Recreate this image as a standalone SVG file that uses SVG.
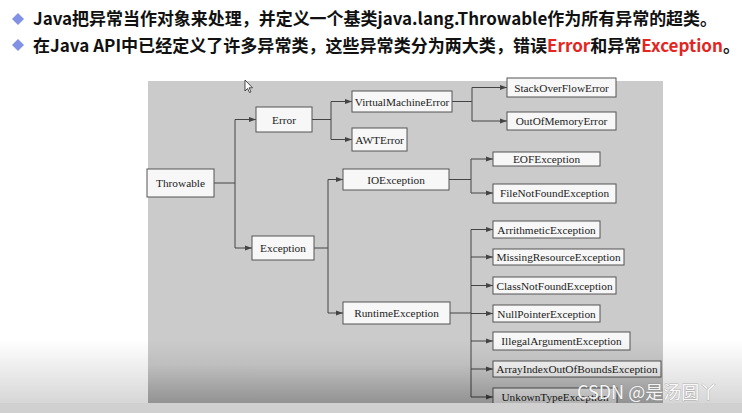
<svg xmlns="http://www.w3.org/2000/svg" width="742" height="413" viewBox="0 0 742 413">
<defs>
<style>
.hd{font-family:"Noto Sans CJK SC","Noto Sans",sans-serif;font-weight:bold;font-size:17px;fill:#111}
.red{fill:#e3261f}
.nb rect{fill:#f7f7f7;stroke:#555;stroke-width:1}
.nb text{font-family:"Liberation Serif",serif;font-size:11.3px;fill:#222;text-anchor:middle}
.cn path{fill:none;stroke:#444;stroke-width:1}
.ar{marker-end:url(#arr)}
.bul{fill:#8192e4}
</style>
<marker id="arr" markerWidth="7" markerHeight="6" refX="7" refY="3" orient="auto" markerUnits="userSpaceOnUse"><path d="M0,0.5 L7,3 L0,5.5 Z" fill="#444"/></marker>
<linearGradient id="gAll" x1="0" y1="0" x2="0" y2="1"><stop offset="0" stop-color="#000" stop-opacity="0"/><stop offset="1" stop-color="#000" stop-opacity="0.16"/></linearGradient>
<linearGradient id="gPan" x1="0" y1="0" x2="0" y2="1"><stop offset="0" stop-color="#000" stop-opacity="0"/><stop offset="1" stop-color="#000" stop-opacity="0.14"/></linearGradient>
</defs>
<rect x="0" y="0" width="742" height="413" fill="#fff"/>
<g id="header">
<path class="bul" d="M18,13 L24,19 L18,25 L12,19 Z"/>
<path class="bul" d="M18,39 L24,45 L18,51 L12,45 Z"/>
<text class="hd" x="33" y="25" textLength="684" lengthAdjust="spacingAndGlyphs">Java把异常当作对象来处理，并定义一个基类java.lang.Throwable作为所有异常的超类。</text>
<text class="hd" x="33" y="52" textLength="707" lengthAdjust="spacingAndGlyphs">在Java API中已经定义了许多异常类，这些异常类分为两大类，错误<tspan class="red">Error</tspan>和异常<tspan class="red">Exception</tspan>。</text>
</g>
<rect x="148" y="81" width="515" height="322" fill="#cbcbcb"/>
<g class="cn" id="connectors">
<path d="M214,183 H235 M235,119.5 V248"/>
<path class="ar" d="M235,119.5 H256"/>
<path class="ar" d="M235,248 H252"/>
<path d="M312,119.5 H331 M331,101.5 V139.5"/>
<path class="ar" d="M331,101.5 H352"/>
<path class="ar" d="M331,139.5 H352"/>
<path d="M452,101.5 H472 M472,87.5 V121"/>
<path class="ar" d="M472,87.5 H507"/>
<path class="ar" d="M472,121 H507"/>
<path d="M314,248 H328 M328,179.5 V313"/>
<path class="ar" d="M328,179.5 H343"/>
<path class="ar" d="M328,313 H343"/>
<path d="M449,179.5 H471 M471,159 V193"/>
<path class="ar" d="M471,159 H493"/>
<path class="ar" d="M471,193 H493"/>
<path d="M450,313 H471 M471,229.5 V397"/>
<path class="ar" d="M471,229.5 H493"/>
<path class="ar" d="M471,257 H493"/>
<path class="ar" d="M471,285.5 H493"/>
<path class="ar" d="M471,313.5 H493"/>
<path class="ar" d="M471,341 H493"/>
<path class="ar" d="M471,369 H493"/>
<path class="ar" d="M471,397 H493"/>
</g>
<g class="nb">
<g id="throwable"><rect x="147" y="169" width="67" height="28"/><text x="180.5" y="187">Throwable</text></g>
<g id="error"><rect x="256" y="107" width="56" height="25"/><text x="284" y="123.5">Error</text></g>
<g id="exception"><rect x="252" y="236" width="62" height="24"/><text x="283" y="252">Exception</text></g>
<g id="virtualmachineerror"><rect x="352" y="91" width="100" height="21"/><text x="402" y="105.5">VirtualMachineError</text></g>
<g id="awterror"><rect x="352" y="128" width="55" height="23"/><text x="379.5" y="143.5">AWTError</text></g>
<g id="ioexception"><rect x="343" y="169" width="106" height="21"/><text x="396" y="183.5">IOException</text></g>
<g id="runtimeexception"><rect x="343" y="302" width="107" height="22"/><text x="396.5" y="317">RuntimeException</text></g>
<g id="stackoverflowerror"><rect x="507" y="78" width="109" height="19"/><text x="561.5" y="91.5">StackOverFlowError</text></g>
<g id="outofmemoryerror"><rect x="507" y="112" width="109" height="18"/><text x="561.5" y="125">OutOfMemoryError</text></g>
<g id="eofexception"><rect x="493" y="152" width="107" height="14"/><text x="546.5" y="163">EOFException</text></g>
<g id="filenotfoundexception"><rect x="493" y="184" width="123" height="19"/><text x="554.5" y="197">FileNotFoundException</text></g>
<g id="arrithmeticexception"><rect x="493" y="221" width="107" height="17"/><text x="546.5" y="233.5">ArrithmeticException</text></g>
<g id="missingresourceexception"><rect x="493" y="249" width="131" height="16"/><text x="558.5" y="261">MissingResourceException</text></g>
<g id="classnotfoundexception"><rect x="493" y="277" width="123" height="17"/><text x="554.5" y="289.5">ClassNotFoundException</text></g>
<g id="nullpointerexception"><rect x="493" y="305" width="107" height="17"/><text x="546.5" y="317.5">NullPointerException</text></g>
<g id="illegalargumentexception"><rect x="493" y="332" width="137" height="18"/><text x="561.5" y="345">IllegalArgumentException</text></g>
<g id="arrayindexoutofboundsexception"><rect x="493" y="361" width="168" height="16"/><text x="577" y="373">ArrayIndexOutOfBoundsException</text></g>
<g id="unkowntypeexception"><rect x="493" y="388" width="124" height="18"/><text x="555" y="401">UnkownTypeException</text></g>
</g>
<rect x="0" y="340" width="742" height="63" fill="url(#gAll)"/>
<rect x="148" y="365" width="515" height="38" fill="url(#gPan)"/>
<rect x="0" y="403" width="742" height="10" fill="#d0d0d0"/>
<text id="watermark" x="577" y="399" font-family="'Noto Sans CJK SC','Noto Sans',sans-serif" font-size="18" fill="#fff" fill-opacity="0.92" stroke="#808080" stroke-opacity="0.5" stroke-width="0.8" paint-order="stroke">CSDN @是汤圆丫</text>
<path id="cursor" d="M245,80 L245,91 L247.5,88.5 L249.5,92.5 L251,91.8 L249,87.8 L252.5,87.8 Z" fill="#fff" stroke="#222" stroke-width="0.8"/>
</svg>
